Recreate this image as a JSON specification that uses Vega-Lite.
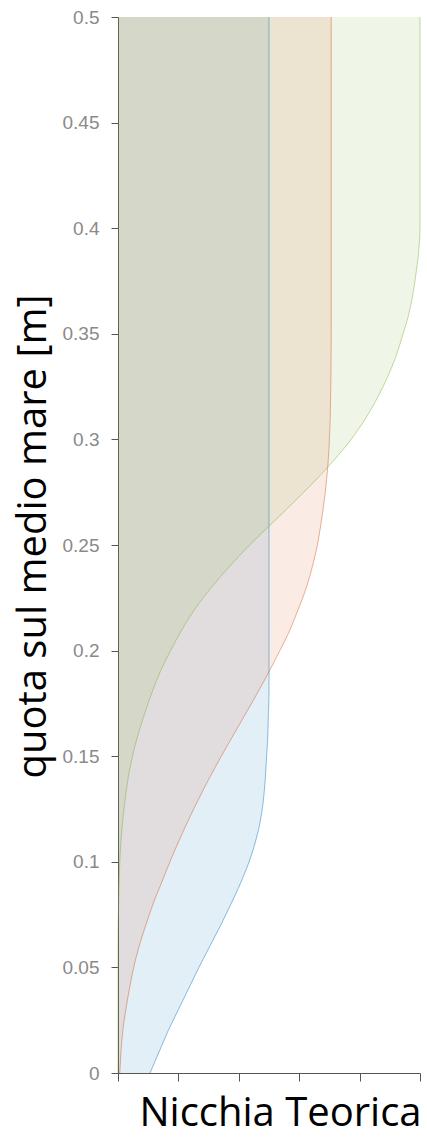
{
  "$schema": "https://vega.github.io/schema/vega-lite/v6.json",
  "autosize": {"type": "none"},
  "padding": {"left": 118, "top": 17, "right": 7, "bottom": 64},
  "width": 302,
  "height": 1056,
  "background": "white",
  "config": {"view": {"stroke": null}},
  "data": {"values": [
    {"s": "A", "h": 0, "v": 0.53}, {"s": "A", "h": 0.01, "v": 0.68}, {"s": "A", "h": 0.02, "v": 0.83}, {"s": "A", "h": 0.03, "v": 1.0}, {"s": "A", "h": 0.04, "v": 1.17}, {"s": "A", "h": 0.05, "v": 1.34}, {"s": "A", "h": 0.06, "v": 1.52}, {"s": "A", "h": 0.07, "v": 1.7}, {"s": "A", "h": 0.08, "v": 1.87}, {"s": "A", "h": 0.09, "v": 2.03}, {"s": "A", "h": 0.1, "v": 2.17}, {"s": "A", "h": 0.11, "v": 2.28}, {"s": "A", "h": 0.12, "v": 2.36}, {"s": "A", "h": 0.13, "v": 2.41}, {"s": "A", "h": 0.14, "v": 2.44}, {"s": "A", "h": 0.15, "v": 2.46}, {"s": "A", "h": 0.16, "v": 2.48}, {"s": "A", "h": 0.17, "v": 2.49}, {"s": "A", "h": 0.18, "v": 2.5}, {"s": "A", "h": 0.3, "v": 2.5}, {"s": "A", "h": 0.5, "v": 2.5},
    {"s": "B", "h": 0, "v": 0.03}, {"s": "B", "h": 0.01, "v": 0.05}, {"s": "B", "h": 0.02, "v": 0.08}, {"s": "B", "h": 0.03, "v": 0.13}, {"s": "B", "h": 0.04, "v": 0.19}, {"s": "B", "h": 0.05, "v": 0.26}, {"s": "B", "h": 0.06, "v": 0.35}, {"s": "B", "h": 0.07, "v": 0.46}, {"s": "B", "h": 0.08, "v": 0.58}, {"s": "B", "h": 0.09, "v": 0.72}, {"s": "B", "h": 0.1, "v": 0.86}, {"s": "B", "h": 0.11, "v": 1.01}, {"s": "B", "h": 0.12, "v": 1.17}, {"s": "B", "h": 0.13, "v": 1.34}, {"s": "B", "h": 0.14, "v": 1.52}, {"s": "B", "h": 0.15, "v": 1.71}, {"s": "B", "h": 0.16, "v": 1.91}, {"s": "B", "h": 0.17, "v": 2.11}, {"s": "B", "h": 0.18, "v": 2.31}, {"s": "B", "h": 0.19, "v": 2.5}, {"s": "B", "h": 0.2, "v": 2.68}, {"s": "B", "h": 0.21, "v": 2.85}, {"s": "B", "h": 0.22, "v": 2.99}, {"s": "B", "h": 0.23, "v": 3.12}, {"s": "B", "h": 0.24, "v": 3.22}, {"s": "B", "h": 0.25, "v": 3.3}, {"s": "B", "h": 0.26, "v": 3.36}, {"s": "B", "h": 0.27, "v": 3.41}, {"s": "B", "h": 0.28, "v": 3.45}, {"s": "B", "h": 0.29, "v": 3.48}, {"s": "B", "h": 0.3, "v": 3.5}, {"s": "B", "h": 0.32, "v": 3.52}, {"s": "B", "h": 0.35, "v": 3.53}, {"s": "B", "h": 0.5, "v": 3.53},
    {"s": "C", "h": 0, "v": 0}, {"s": "C", "h": 0.06, "v": 0}, {"s": "C", "h": 0.08, "v": 0.01}, {"s": "C", "h": 0.1, "v": 0.03}, {"s": "C", "h": 0.11, "v": 0.05}, {"s": "C", "h": 0.12, "v": 0.08}, {"s": "C", "h": 0.13, "v": 0.12}, {"s": "C", "h": 0.14, "v": 0.17}, {"s": "C", "h": 0.15, "v": 0.24}, {"s": "C", "h": 0.16, "v": 0.33}, {"s": "C", "h": 0.17, "v": 0.44}, {"s": "C", "h": 0.18, "v": 0.56}, {"s": "C", "h": 0.19, "v": 0.7}, {"s": "C", "h": 0.2, "v": 0.87}, {"s": "C", "h": 0.21, "v": 1.06}, {"s": "C", "h": 0.22, "v": 1.28}, {"s": "C", "h": 0.23, "v": 1.55}, {"s": "C", "h": 0.24, "v": 1.85}, {"s": "C", "h": 0.25, "v": 2.18}, {"s": "C", "h": 0.26, "v": 2.54}, {"s": "C", "h": 0.27, "v": 2.9}, {"s": "C", "h": 0.28, "v": 3.25}, {"s": "C", "h": 0.29, "v": 3.57}, {"s": "C", "h": 0.3, "v": 3.86}, {"s": "C", "h": 0.31, "v": 4.1}, {"s": "C", "h": 0.32, "v": 4.3}, {"s": "C", "h": 0.33, "v": 4.47}, {"s": "C", "h": 0.34, "v": 4.61}, {"s": "C", "h": 0.35, "v": 4.72}, {"s": "C", "h": 0.36, "v": 4.82}, {"s": "C", "h": 0.37, "v": 4.89}, {"s": "C", "h": 0.38, "v": 4.94}, {"s": "C", "h": 0.39, "v": 4.98}, {"s": "C", "h": 0.4, "v": 5.0}, {"s": "C", "h": 0.5, "v": 5.0}
  ]},
  "encoding": {
    "y": {
      "field": "h", "type": "quantitative",
      "scale": {"domain": [0, 0.5], "nice": false},
      "axis": {
        "values": [0, 0.05, 0.1, 0.15, 0.2, 0.25, 0.3, 0.35, 0.4, 0.45, 0.5],
        "format": "~g",
        "grid": false,
        "labelFont": "Liberation Sans", "labelFontSize": 19, "labelColor": "#8a8a8a",
        "tickSize": 7, "labelPadding": 12, "tickColor": "#555555", "domainColor": "#555555",
        "title": "quota sul medio mare [m]",
        "titleFont": "Open Sans", "titleFontSize": 40, "titleFontWeight": "normal", "titleColor": "#000000",
        "titleAngle": -90, "titleBaseline": "alphabetic", "titleAlign": "center",
        "titleX": -73, "titleY": 519
      }
    },
    "x": {
      "field": "v", "type": "quantitative",
      "stack": null,
      "scale": {"domain": [0, 5], "nice": false},
      "axis": {
        "values": [0, 1, 2, 3, 4, 5],
        "labels": false, "grid": false,
        "tickSize": 8, "tickColor": "#555555", "domainColor": "#555555",
        "title": "Nicchia Teorica",
        "titleFont": "Open Sans", "titleFontSize": 40, "titleFontWeight": "normal", "titleColor": "#000000",
        "titleBaseline": "alphabetic", "titleAlign": "center",
        "titleX": 162, "titleY": 52
      }
    },
    "color": {
      "field": "s", "type": "nominal",
      "scale": {"domain": ["A", "B", "C"], "range": ["#0072bd", "#d95319", "#77ac30"]},
      "legend": null
    }
  },
  "layer": [
    {"mark": {"type": "area", "orient": "horizontal", "interpolate": "monotone", "opacity": 0.115}},
    {"mark": {"type": "line", "interpolate": "monotone", "strokeWidth": 1, "opacity": 0.45}, "encoding": {"order": {"field": "h", "type": "quantitative"}}}
  ]
}
